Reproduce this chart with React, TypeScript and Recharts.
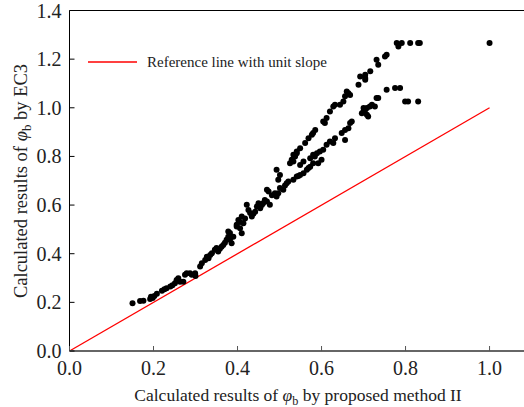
import React from "react";
import { ScatterChart, Scatter, XAxis, YAxis, ReferenceLine, Label } from "recharts";

// x: calculated phi_b by proposed method II, y: calculated phi_b by EC3
const proposed = [
  0.15, 0.168, 0.176, 0.192, 0.194, 0.202, 0.208, 0.198, 0.22, 0.226, 0.231, 0.24, 0.245,
  0.251, 0.255, 0.259, 0.263, 0.271, 0.275, 0.279, 0.287, 0.291, 0.299, 0.3,
  0.311, 0.315, 0.323, 0.327, 0.331, 0.335, 0.339, 0.346, 0.35, 0.354, 0.358, 0.362, 0.366,
  0.37, 0.374, 0.378, 0.382, 0.386, 0.39, 0.398, 0.406, 0.41, 0.378, 0.382, 0.398, 0.402,
  0.41, 0.406, 0.414, 0.418, 0.422, 0.426, 0.43, 0.434, 0.438, 0.442, 0.446, 0.45, 0.454,
  0.458, 0.461, 0.465, 0.47, 0.474, 0.47, 0.477, 0.482, 0.489, 0.493, 0.497, 0.501, 0.497,
  0.501, 0.493, 0.509, 0.513, 0.517, 0.521, 0.525, 0.529, 0.537, 0.541, 0.533, 0.541, 0.545,
  0.549, 0.557, 0.565, 0.569, 0.573, 0.58, 0.58, 0.592, 0.6,
  0.533, 0.541, 0.549, 0.561, 0.569, 0.577, 0.58, 0.585, 0.604, 0.612, 0.608, 0.62, 0.628,
  0.632, 0.644, 0.652, 0.656, 0.664, 0.668, 0.688, 0.704,
  0.533, 0.549, 0.557, 0.573, 0.584, 0.589, 0.596, 0.604, 0.612, 0.62, 0.628, 0.632, 0.648,
  0.656, 0.656, 0.664, 0.668, 0.672, 0.696, 0.7, 0.704, 0.708, 0.711, 0.715, 0.72, 0.731,
  0.66, 0.692, 0.704, 0.704, 0.716, 0.731, 0.735, 0.751, 0.755, 0.779, 0.783, 0.791, 0.811,
  0.83, 0.834, 0.7, 0.708, 0.727, 0.735, 0.755, 0.775, 0.787, 0.799, 0.806, 0.83, 1.0,
];
const ec3 = [
  0.196, 0.206, 0.207, 0.214, 0.223, 0.226, 0.235, 0.218, 0.248, 0.254, 0.258, 0.265, 0.27,
  0.279, 0.292, 0.299, 0.285, 0.285, 0.313, 0.32, 0.32, 0.313, 0.32, 0.308,
  0.347, 0.361, 0.374, 0.388, 0.381, 0.395, 0.402, 0.416, 0.423, 0.409, 0.42, 0.429, 0.436,
  0.445, 0.457, 0.47, 0.457, 0.443, 0.47, 0.519, 0.505, 0.484, 0.491, 0.485, 0.512, 0.539,
  0.553, 0.53, 0.525, 0.545, 0.601, 0.58, 0.567, 0.553, 0.565, 0.573, 0.594, 0.608, 0.587,
  0.6, 0.608, 0.621, 0.663, 0.656, 0.615, 0.601, 0.64, 0.649, 0.635, 0.649, 0.67, 0.704,
  0.724, 0.745, 0.663, 0.68, 0.69, 0.697, 0.772, 0.786, 0.8, 0.813, 0.704, 0.717, 0.72,
  0.724, 0.731, 0.745, 0.752, 0.758, 0.772, 0.807, 0.772, 0.786,
  0.807, 0.82, 0.834, 0.855, 0.875, 0.889, 0.896, 0.909, 0.944, 0.958, 0.937, 0.985, 1.005,
  1.012, 1.012, 1.026, 1.047, 1.06, 1.053, 1.095, 1.115,
  0.779, 0.765, 0.779, 0.793, 0.8, 0.813, 0.82, 0.827, 0.848, 0.861, 0.855, 0.875, 0.896,
  0.868, 0.909, 0.916, 0.937, 0.944, 0.978, 0.985, 0.992, 0.971, 0.964, 1.005, 1.012, 1.04,
  1.067, 1.129, 1.122, 1.136, 1.15, 1.198, 1.177, 1.211, 1.218, 1.266, 1.252, 1.266, 1.266,
  1.266, 1.266, 0.999, 0.999, 1.005, 1.04, 1.074, 1.081, 1.081, 1.026, 1.026, 1.026, 1.266,
];

const xTicks = [0, 0.2, 0.4, 0.6, 0.8, 1.0];
const yTicks = [0, 0.2, 0.4, 0.6, 0.8, 1.0, 1.2, 1.4];
const unitLine = [0, 1];

const points = proposed.map((x, i) => ({ x, y: ec3[i] }));

const FONT = "Liberation Serif, Times New Roman, serif";

const YTick = (props: any) => {
  const { x, y, payload } = props;
  return (
    <g>
      <line x1={x + 8} x2={x + 13} y1={y} y2={y} stroke="#000" />
      <text x={x} y={y} dy="0.35em" textAnchor="end" fontSize={20} fontFamily={FONT} fill="#222">
        {payload.value.toFixed(1)}
      </text>
    </g>
  );
};

const XTick = (props: any) => {
  const { x, y, payload } = props;
  return (
    <g>
      <line x1={x} x2={x} y1={y - 10} y2={y - 15} stroke="#555" />
      <text x={x} y={y} dy="0.71em" textAnchor="middle" fontSize={20} fontFamily={FONT} fill="#222">
        {payload.value.toFixed(1)}
      </text>
    </g>
  );
};

const Phi = ({ size }: { size: number }) => (
  <>
    <tspan fontStyle="italic">φ</tspan>
    <tspan fontSize={size * 0.7} dy={size * 0.2}>b</tspan>
    <tspan dy={-size * 0.2}> </tspan>
  </>
);

export default function App() {
  return (
    <div style={{ position: "absolute", left: 0, top: 0, width: 524, height: 407, background: "#fff" }}>
      <ScatterChart width={524} height={407} margin={{ top: 10.5, right: 0, bottom: 0, left: 0 }}>
        <XAxis
          type="number"
          dataKey="x"
          domain={[0, 1.082]}
          ticks={xTicks}
          allowDataOverflow
          height={56}
          tickSize={0}
          tickMargin={10}
          tick={<XTick />}
          axisLine={{ stroke: "#666", strokeWidth: 2 }}
        >
          <Label
            content={() => (
              <text x={298} y={401} textAnchor="middle" fontSize={17.5} fontFamily={FONT} fill="#222">
                Calculated results of <Phi size={17.5} />by proposed method II
              </text>
            )}
          />
        </XAxis>
        <YAxis
          type="number"
          dataKey="y"
          domain={[0, 1.4]}
          ticks={yTicks}
          width={69.5}
          tickSize={0}
          tickMargin={8}
          tick={<YTick />}
          axisLine={{ stroke: "#000", strokeWidth: 1 }}
        >
          <Label
            content={() => (
              <text
                x={27}
                y={181}
                transform="rotate(-90 27 181)"
                textAnchor="middle"
                fontSize={18.5}
                fontFamily={FONT}
                fill="#222"
              >
                Calculated results of <Phi size={18.5} />by EC3
              </text>
            )}
          />
        </YAxis>
        <ReferenceLine y={1.4} stroke="#000" strokeWidth={1} />
        <ReferenceLine
          segment={[
            { x: unitLine[0], y: unitLine[0] },
            { x: unitLine[1], y: unitLine[1] },
          ]}
          stroke="#ff0000"
          strokeWidth={1.3}
        />
        <Scatter
          data={points}
          isAnimationActive={false}
          shape={(p: any) => <circle cx={p.cx} cy={p.cy} r={3} fill="#000" />}
        />
      </ScatterChart>
      <svg width={260} height={30} style={{ position: "absolute", left: 80, top: 47 }}>
        <line x1={8} x2={57} y1={15} y2={15} stroke="#ff0000" strokeWidth={1.3} />
        <text x={67} y={20} fontSize={15} fontFamily={FONT} fill="#222">
          Reference line with unit slope
        </text>
      </svg>
    </div>
  );
}
